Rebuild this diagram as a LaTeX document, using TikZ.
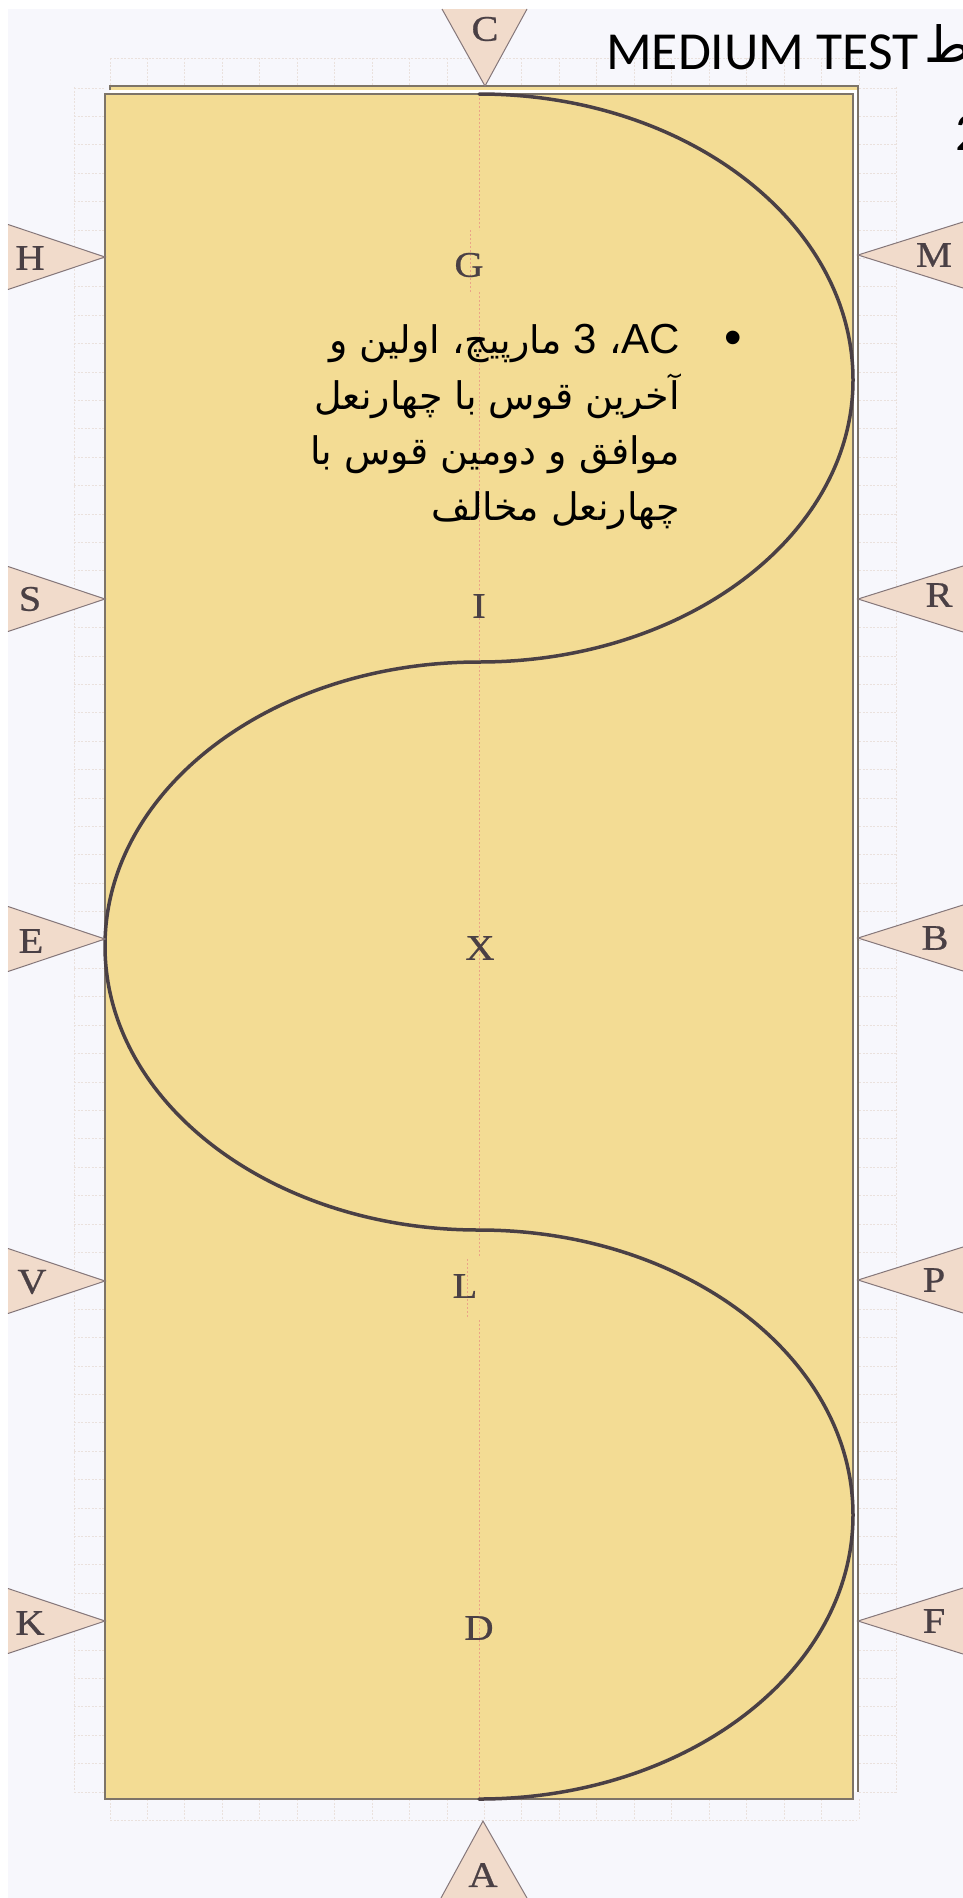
\documentclass[tikz,border=0pt]{standalone}
\usepackage{fontspec}
\TeXXeTstate=1
\setmainfont{Liberation Serif}
\newfontfamily\arabicfont[Script=Arabic]{DejaVu Sans}
\newfontfamily\latinfont{Liberation Sans}
\newfontfamily\titlefont{Carlito}
\newfontfamily\letterfont[FakeStretch=1.12,FakeBold=0.7]{Liberation Serif}
\definecolor{paper}{HTML}{F7F7FC}
\definecolor{sheet}{HTML}{F3DC94}
\definecolor{tri}{HTML}{F1DBCB}
\definecolor{triline}{HTML}{85777A}
\definecolor{ink}{HTML}{4A4045}
\definecolor{gridc}{HTML}{EAE1DD}
\definecolor{redline}{HTML}{EBA488}
\definecolor{edge}{HTML}{7D7468}
\tikzset{
  gridline/.style={gridc,line width=1pt,dash pattern=on 2pt off 1.5pt},
  centre/.style={redline,line width=1pt,dash pattern=on 2pt off 2pt},
  pointer/.style={fill=tri,draw=triline,line width=1pt},
  lab/.style={inner sep=0pt,text=ink,font=\fontsize{36}{36}\selectfont\letterfont},
  arline/.style={inner sep=0pt,anchor=base east,text=black,font=\fontsize{38}{44}\selectfont\arabicfont},
  spiral/.style={ink,line width=3.5pt,line cap=round},
  sheetedge/.style={edge,line width=1.2pt}
}
\begin{document}
\begin{tikzpicture}[x=1pt,y=-1pt]
\useasboundingbox (0,0) rectangle (963,1898);
\clip (0,0) rectangle (963,1898);
\fill[white] (0,0) rectangle (963,1898);
\fill[paper] (8,9) rectangle (963,1898);
% grid
\draw[gridline] (74,87) -- (74,1792) (896,87) -- (896,1792) (110,58) -- (859,58) (110,1820) -- (857,1820);
\foreach \k in {0,...,20} {
  \draw[gridline] ({110+37.45*\k},58) -- ({110+37.45*\k},86);
  \draw[gridline] ({110+37.45*\k},1799) -- ({110+37.45*\k},1820);
}
\foreach \k in {0,...,60} {
  \draw[gridline] (74,{1792-28.4*\k}) -- (105,{1792-28.4*\k});
  \draw[gridline] (859,{1792-28.4*\k}) -- (896,{1792-28.4*\k});
}
% sheets
\fill[sheet] (110,86) rectangle (858,90);
\fill[white] (110,90) rectangle (858,94);
\fill[white] (853,90) rectangle (858,1792);
\draw[sheetedge] (110,90) -- (110,86) -- (858,86) -- (858,1792);
\fill[sheet] (105,94) rectangle (853,1799);
\draw[sheetedge] (105,1799) -- (105,94) -- (853,94) -- (853,1799) -- cycle;
% centre line
\draw[centre] (479,94) -- (479,230);
\draw[centre] (470,230) -- (470,292);
\draw[centre] (479,292) -- (479,592);
\draw[centre] (479,618) -- (479,1257);
\draw[centre] (467,1259) -- (467,1317);
\draw[centre] (479,1320) -- (479,1799);
% spiral
\coordinate (s0) at (479,94);
\coordinate (s1) at (853,380);
\coordinate (s2) at (479,662);
\coordinate (s3) at (105,946);
\coordinate (s4) at (479,1230);
\coordinate (s5) at (853,1515);
\coordinate (s6) at (479,1799);
\draw[spiral] (s0) .. controls +(206.6,0) and +(0,-158) .. (s1)
  .. controls +(0,155.7) and +(206.6,0) .. (s2)
  .. controls +(-206.6,0) and +(0,-156.9) .. (s3)
  .. controls +(0,156.9) and +(-206.6,0) .. (s4)
  .. controls +(206.6,0) and +(0,-157.1) .. (s5)
  .. controls +(0,157.1) and +(206.6,0) .. (s6);
% pointers
\draw[pointer] (442,9) -- (485,86) -- (527,9);
\draw[pointer] (441,1898) -- (483,1821) -- (527,1898);
\foreach \y in {257,599,939,1281,1621} {
  \draw[pointer] (8,{\y-32.5}) -- (105,\y) -- (8,{\y+32.5});
}
\foreach \y in {255,599,938,1280,1621} {
  \draw[pointer] (963,{\y-33}) -- (858,\y) -- (963,{\y+33});
}
% letters
\node[lab] (C) at (485,29) {C};
\node[lab] (A) at (483,1875) {A};
\node[lab] (H) at (30,258) {H};
\node[lab] (S) at (30,599) {S};
\node[lab] (E) at (31,941) {E};
\node[lab] (V) at (32,1282) {V};
\node[lab] (K) at (30,1623) {K};
\node[lab] (M) at (934,255) {M};
\node[lab] (R) at (939,595) {R};
\node[lab] (B) at (935,938) {B};
\node[lab] (P) at (934,1280) {P};
\node[lab] (F) at (934,1621) {F};
\node[lab] (G) at (469,265) {G};
\node[lab] (I) at (479,606) {I};
\node[lab] (X) at (480,948) {X};
\node[lab] (L) at (465,1286) {L};
\node[lab] (D) at (479,1628) {D};
% text
\node[inner sep=0pt,anchor=base west,text=black,font=\fontsize{53.5}{54}\selectfont\titlefont] (title) at (606,69) {MEDIUM TEST};
\node[inner sep=0pt,anchor=base west,text=black,font=\fontsize{50}{50}\selectfont\arabicfont] (tah) at (924,62) {\beginR ط\endR};
\node[inner sep=0pt,anchor=base west,text=black,font=\fontsize{54}{54}\selectfont\titlefont] (two) at (955,150) {2};
\node[inner sep=0pt,text=black,font=\fontsize{50}{50}\selectfont\latinfont] (bullet) at (733,343) {•};
\node[arline] (l1) at (680,353) {\beginR\beginL{\latinfont\fontsize{42}{44}\selectfont AC}\endL، \beginL{\latinfont\fontsize{42}{44}\selectfont 3}\endL{} مارپیچ، اولین و\endR};
\node[arline] (l2) at (680,409) {\beginR آخرین قوس با چهارنعل\endR};
\node[arline] (l3) at (680,464) {\beginR موافق و دومین قوس با\endR};
\node[arline] (l4) at (680,520) {\beginR چهارنعل مخالف\endR};
\end{tikzpicture}
\end{document}
